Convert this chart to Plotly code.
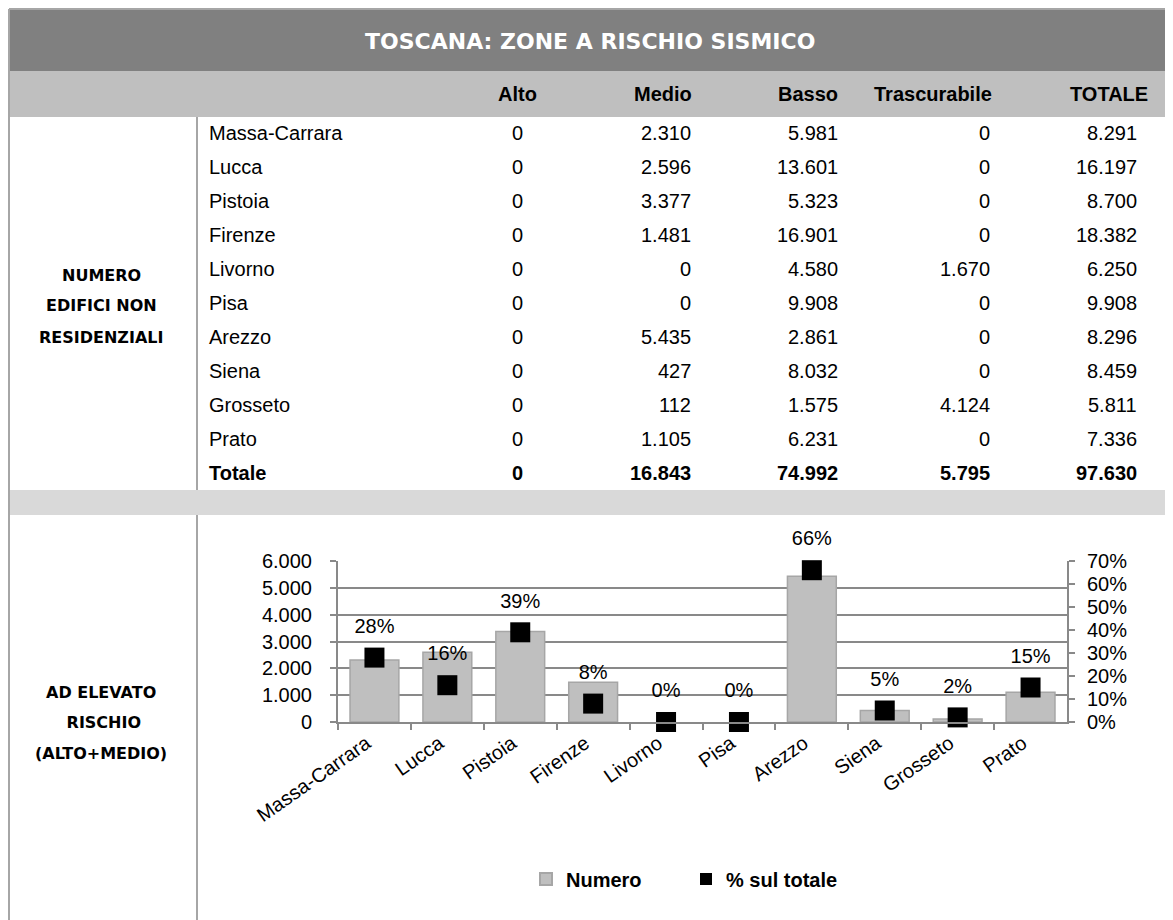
import plotly.graph_objects as go

# ---------------- data ----------------
title = "TOSCANA: ZONE A RISCHIO SISMICO"
col_headers = ["Alto", "Medio", "Basso", "Trascurabile", "TOTALE"]
provinces = ["Massa-Carrara", "Lucca", "Pistoia", "Firenze", "Livorno",
             "Pisa", "Arezzo", "Siena", "Grosseto", "Prato"]
alto = [0, 0, 0, 0, 0, 0, 0, 0, 0, 0]
medio = [2310, 2596, 3377, 1481, 0, 0, 5435, 427, 112, 1105]
basso = [5981, 13601, 5323, 16901, 4580, 9908, 2861, 8032, 1575, 6231]
trascurabile = [0, 0, 0, 0, 1670, 0, 0, 0, 4124, 0]
totale = [8291, 16197, 8700, 18382, 6250, 9908, 8296, 8459, 5811, 7336]
totals_row_label = "Totale"
totals_row = [0, 16843, 74992, 5795, 97630]
section1_label = ["NUMERO", "EDIFICI NON", "RESIDENZIALI"]
section2_label = ["AD ELEVATO", " RISCHIO", "(ALTO+MEDIO)"]

# chart data (Alto+Medio) and share of the province total
numero = [2310, 2596, 3377, 1481, 0, 0, 5435, 427, 112, 1105]
pct_sul_totale = [28, 16, 39, 8, 0, 0, 66, 5, 2, 15]
left_ticks = [0, 1000, 2000, 3000, 4000, 5000, 6000]
right_ticks = [0, 10, 20, 30, 40, 50, 60, 70]

# ---------------- geometry helpers ----------------
# coordinates below are window pixels; the page body has an 8px margin
OFF = 8
W, H = 1173 - OFF, 920 - OFF


def px(x):
    return (x - OFF) / W


def py(y):
    return 1 - (y - OFF) / H


def fmt(v):
    return f"{v:,}".replace(",", ".")


BODY = "Liberation Sans, Arial, sans-serif"
HEAVY = "DejaVu Sans, sans-serif"
GRID = "#898989"

shapes = []
annotations = []


def rect(x0, y0, x1, y1, color):
    shapes.append(dict(type="rect", xref="paper", yref="paper",
                       x0=px(x0), x1=px(x1), y0=py(y1), y1=py(y0),
                       fillcolor=color, line=dict(width=0), layer="below"))


def line(x0, y0, x1, y1, color="#A6A6A6", width=2):
    shapes.append(dict(type="line", xref="paper", yref="paper",
                       x0=px(x0), x1=px(x1), y0=py(y0), y1=py(y1),
                       line=dict(color=color, width=width)))


def text(x, y, s, anchor="center", size=20, bold=False, family=BODY, color="black"):
    annotations.append(dict(xref="paper", yref="paper", x=px(x), y=py(y),
                            text=s, showarrow=False, xanchor=anchor, yanchor="middle",
                            font=dict(family=family, size=size, color=color,
                                      weight="bold" if bold else "normal")))


# bands
rect(9, 9, 1180, 71, "#808080")        # title band
rect(9, 71, 1180, 117, "#BFBFBF")      # header band
rect(9, 490, 1180, 515, "#D9D9D9")     # separator band
line(9, 9, 1180, 9, "#A6A6A6", 2)      # top border
line(9, 9, 9, 930, "#A6A6A6", 2)       # left border
line(197, 117, 197, 490, "#A6A6A6", 2)
line(197, 515, 197, 930, "#A6A6A6", 2)

# title
text(590, 41, title, size=22, bold=True, family=HEAVY, color="white")

# headers (Alto centered, others right-aligned)
col_x = [517, 693, 840, 992, 1139]
col_anchor = ["center", "right", "right", "right", "right"]
header_x = [517, 694, 840, 994, 1150]
for hx, anc, h in zip(header_x, col_anchor, col_headers):
    text(hx, 94, h, anchor=anc, size=20, bold=True)

# rows
row_y0, row_dy = 133, 34
for i, name in enumerate(provinces):
    y = row_y0 + i * row_dy
    text(207, y, name, anchor="left", size=20)
    vals = [alto[i], medio[i], basso[i], trascurabile[i], totale[i]]
    for cx, anc, v in zip(col_x, col_anchor, vals):
        text(cx, y, fmt(v), anchor=anc, size=20)
y = row_y0 + len(provinces) * row_dy
text(207, y, totals_row_label, anchor="left", size=20, bold=True)
for cx, anc, v in zip(col_x, col_anchor, totals_row):
    text(cx, y, fmt(v), anchor=anc, size=20, bold=True)

# section labels
for k, s in enumerate(section1_label):
    text(101, 275 + k * 31, s, size=16, bold=True, family=HEAVY)
for k, s in enumerate(section2_label):
    text(101, 692 + k * 30.5, s, size=16, bold=True, family=HEAVY)

# ---------------- chart ----------------
fig = go.Figure()
fig.add_trace(go.Bar(
    x=provinces, y=numero, name="Numero",
    marker=dict(color="#BFBFBF",
                line=dict(color="#A6A6A6", width=[1.5 if v > 0 else 0 for v in numero])),
    yaxis="y", hoverinfo="skip"))
fig.add_trace(go.Scatter(
    x=provinces, y=pct_sul_totale, name="% sul totale",
    mode="markers", yaxis="y2",
    marker=dict(symbol="square", size=20, color="black"),
    cliponaxis=False, hoverinfo="skip"))
# data labels for the percentage series (invisible larger marker sets the offset)
fig.add_trace(go.Scatter(
    x=provinces, y=pct_sul_totale, mode="markers+text", yaxis="y2", showlegend=False,
    marker=dict(size=30, color="rgba(0,0,0,0)"),
    text=[f"{v}%" for v in pct_sul_totale], textposition="top center",
    textfont=dict(family=BODY, size=20, color="black"),
    cliponaxis=False, hoverinfo="skip"))

fig.update_layout(
    template="none",
    width=W, height=H, autosize=False,
    margin=dict(l=0, r=0, t=0, b=0, pad=0, autoexpand=False),
    paper_bgcolor="white", plot_bgcolor="white",
    separators=",.",
    font=dict(family=BODY, size=20, color="black"),
    bargap=0.33,
    shapes=shapes, annotations=annotations,
    showlegend=True,
    legend=dict(orientation="h", x=px(526), xanchor="left", y=py(879), yanchor="middle",
                font=dict(family=BODY, size=20, weight="bold"),
                itemsizing="constant", itemwidth=30, entrywidth=115,
                bgcolor="rgba(0,0,0,0)"),
    xaxis=dict(domain=[px(338), px(1067)], anchor="y", automargin=False,
               range=[-0.5, len(provinces) - 0.5],
               showline=True, linecolor=GRID, linewidth=2,
               ticks="outside", tickson="boundaries", ticklen=6, tickcolor=GRID, tickwidth=2,
               tickangle=-35, ticklabelshift=-8, tickfont=dict(family=BODY, size=20),
               showgrid=False, zeroline=False, fixedrange=True),
    yaxis=dict(domain=[py(722), py(561)], range=[0, 6000], automargin=False,
               tickmode="array", tickvals=left_ticks,
               ticktext=[fmt(v) for v in left_ticks],
               showline=True, linecolor=GRID, linewidth=2,
               ticks="outside", ticklen=6, tickcolor=GRID, tickwidth=2,
               ticklabelstandoff=14,
               showgrid=True, gridcolor=GRID, gridwidth=2, zeroline=False,
               tickfont=dict(family=BODY, size=20)),
    yaxis2=dict(overlaying="y", side="right", anchor="x", range=[0, 70], automargin=False,
                tickmode="array", tickvals=right_ticks,
                ticktext=[f"{v}%" for v in right_ticks],
                showline=True, linecolor=GRID, linewidth=2,
                ticks="outside", ticklen=6, tickcolor=GRID, tickwidth=2,
                ticklabelstandoff=8,
                showgrid=False, zeroline=False,
                tickfont=dict(family=BODY, size=20)),
)

fig.write_html("out.html")
